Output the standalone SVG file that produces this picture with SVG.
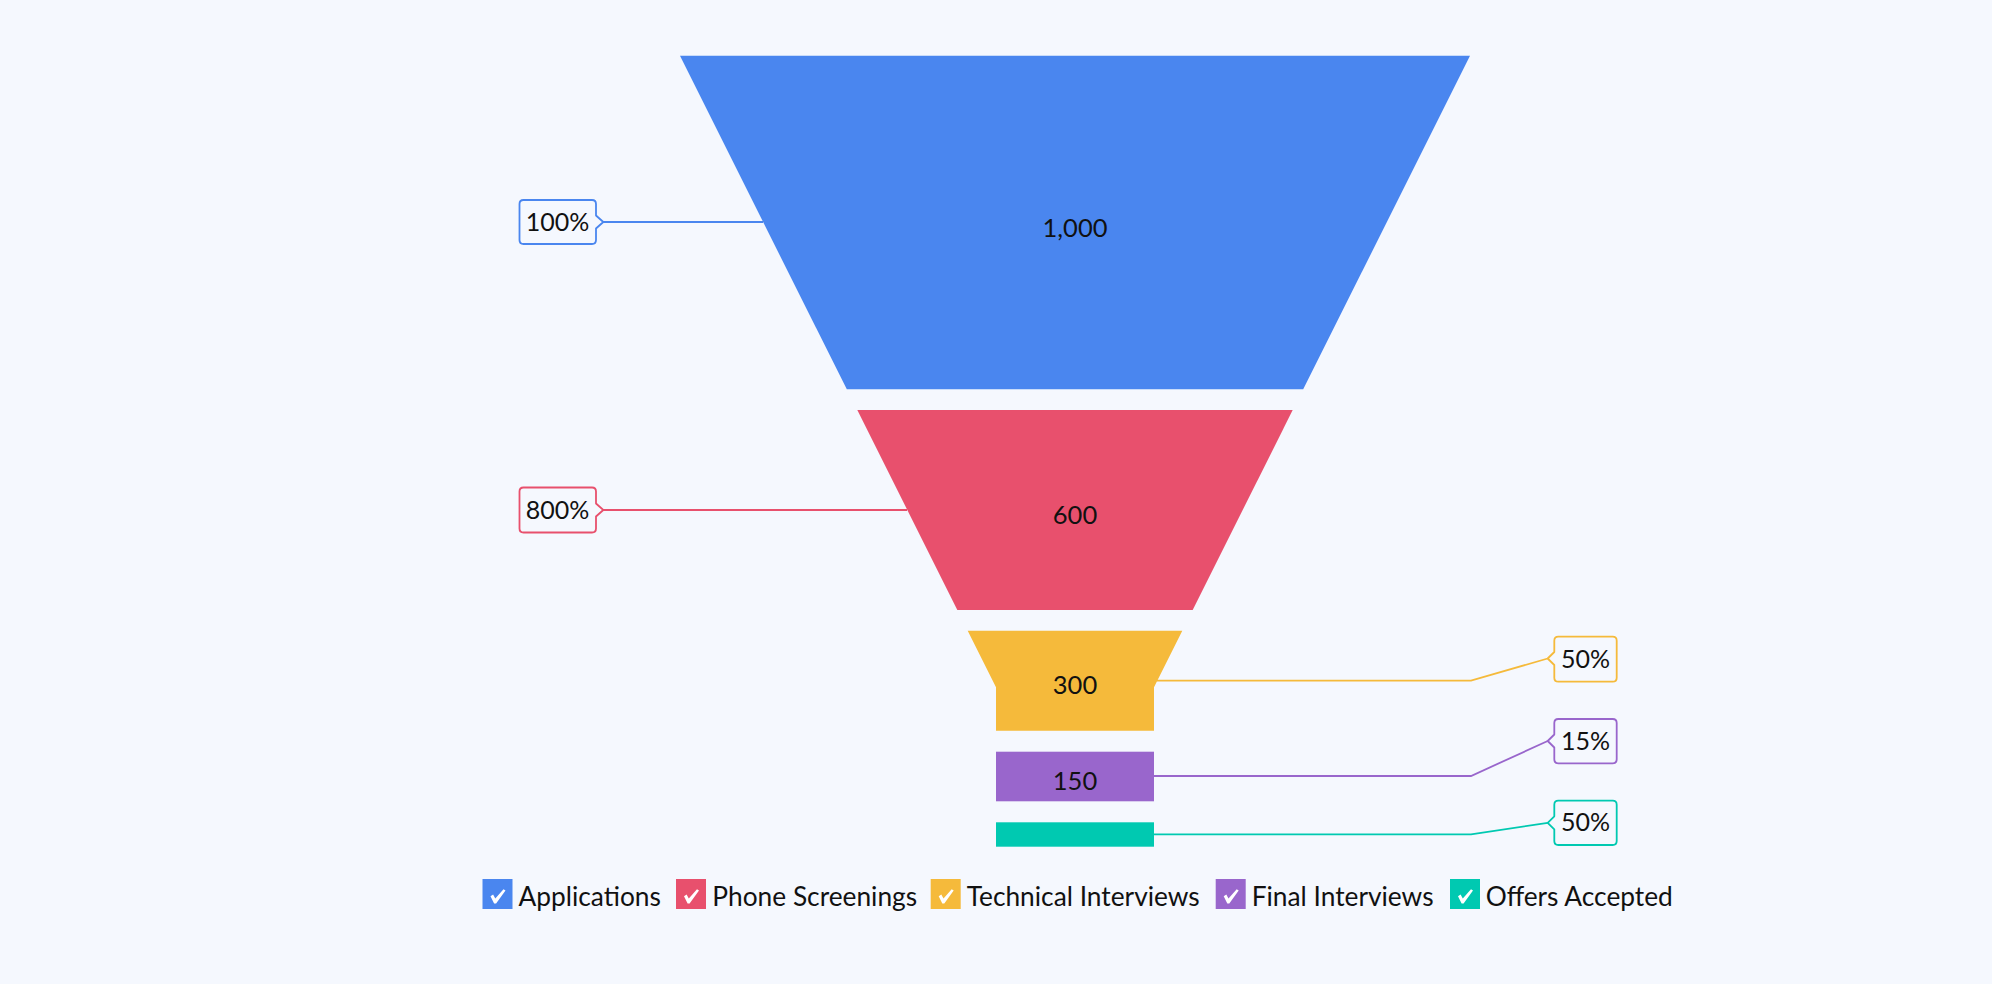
<svg xmlns="http://www.w3.org/2000/svg" xmlns:xlink="http://www.w3.org/1999/xlink" width="1992" height="984" viewBox="0 0 1992 984">
<style>
.val{font-family:Lato,"Liberation Sans",sans-serif;font-size:25.5px;fill:#111;text-anchor:middle}
.lbl{font-family:Lato,"Liberation Sans",sans-serif;font-size:25px;fill:#111;text-anchor:middle}
.leg{font-family:Lato,"Liberation Sans",sans-serif;font-size:26.3px;fill:#111}
.conn{fill:none;stroke-width:1.8}
.box{fill:#F5F8FE;stroke-width:1.8;stroke-linejoin:round}
</style>
<defs>
<path id="chk" d="M8,17.2 L10.6,15.6 L12.8,19.6 L21,10.2 L23,11.4 L13.6,24.6 L11.6,24.6 Z" fill="#fff"/>
</defs>
<rect width="1992" height="984" fill="#F5F8FE"/>

<g id="connectors">
<path class="conn" stroke="#4A86EF" d="M603,222 H763"/>
<path class="conn" stroke="#E8506D" d="M603,510 H907"/>
<path class="conn" stroke="#F5BA3B" d="M1157,680.7 H1471 L1547.7,658.5"/>
<path class="conn" stroke="#9966CC" d="M1154,776 H1471 L1547.7,741"/>
<path class="conn" stroke="#00C9B1" d="M1154,834.3 H1471 L1547.7,822.8"/>
</g>

<g id="applications">
<polygon points="680,55.7 1470,55.7 1303.2,389.3 846.8,389.3" fill="#4A86EF"/>
<text class="val" x="1075" y="236.5">1,000</text>
<path class="box" stroke="#4A86EF" d="M523.5,200 H592 Q596,200 596,204 V215.5 L603.3,222 L596,228.5 V240 Q596,244 592,244 H523.5 Q519.5,244 519.5,240 V204 Q519.5,200 523.5,200 Z"/>
<text class="lbl" x="557.5" y="230.5">100%</text>
</g>

<g id="phone-screenings">
<polygon points="857.3,410 1292.7,410 1192.7,610 957.3,610" fill="#E8506D"/>
<text class="val" x="1075" y="523.5">600</text>
<path class="box" stroke="#E8506D" d="M523.5,487.5 H592 Q596,487.5 596,491.5 V503.5 L603.3,510 L596,516.5 V528.5 Q596,532.5 592,532.5 H523.5 Q519.5,532.5 519.5,528.5 V491.5 Q519.5,487.5 523.5,487.5 Z"/>
<text class="lbl" x="557.5" y="518.5">800%</text>
</g>

<g id="technical-interviews">
<polygon points="967.7,630.7 1182.3,630.7 1154,687.3 1154,730.7 996,730.7 996,687.3" fill="#F5BA3B"/>
<text class="val" x="1075" y="694">300</text>
<path class="box" stroke="#F5BA3B" d="M1558.3,636.7 H1612.7 Q1616.7,636.7 1616.7,640.7 V677.7 Q1616.7,681.7 1612.7,681.7 H1558.3 Q1554.3,681.7 1554.3,677.7 V665 L1547.7,658.5 L1554.3,652 V640.7 Q1554.3,636.7 1558.3,636.7 Z"/>
<text class="lbl" x="1585.5" y="667.5">50%</text>
</g>

<g id="final-interviews">
<rect x="996" y="751.7" width="158" height="49.6" fill="#9966CC"/>
<text class="val" x="1075" y="790">150</text>
<path class="box" stroke="#9966CC" d="M1558.3,719 H1612.7 Q1616.7,719 1616.7,723 V759.3 Q1616.7,763.3 1612.7,763.3 H1558.3 Q1554.3,763.3 1554.3,759.3 V747.5 L1547.7,741 L1554.3,734.5 V723 Q1554.3,719 1558.3,719 Z"/>
<text class="lbl" x="1585.5" y="749.5">15%</text>
</g>

<g id="offers-accepted">
<rect x="996" y="822.3" width="158" height="24.4" fill="#00C9B1"/>
<path class="box" stroke="#00C9B1" d="M1558.3,800.7 H1612.7 Q1616.7,800.7 1616.7,804.7 V841 Q1616.7,845 1612.7,845 H1558.3 Q1554.3,845 1554.3,841 V829.3 L1547.7,822.8 L1554.3,816.3 V804.7 Q1554.3,800.7 1558.3,800.7 Z"/>
<text class="lbl" x="1585.5" y="831.3">50%</text>
</g>

<g id="legend">
<rect x="482.5" y="879" width="30" height="30" fill="#4A86EF"/>
<use xlink:href="#chk" x="482.5" y="879"/>
<text class="leg" x="518.5" y="906">Applications</text>
<rect x="676" y="879" width="30" height="30" fill="#E8506D"/>
<use xlink:href="#chk" x="676" y="879"/>
<text class="leg" x="712.3" y="906">Phone Screenings</text>
<rect x="930.7" y="879" width="30" height="30" fill="#F5BA3B"/>
<use xlink:href="#chk" x="930.7" y="879"/>
<text class="leg" x="966.7" y="906">Technical Interviews</text>
<rect x="1215.7" y="879" width="30" height="30" fill="#9966CC"/>
<use xlink:href="#chk" x="1215.7" y="879"/>
<text class="leg" x="1251.7" y="906">Final Interviews</text>
<rect x="1450" y="879" width="30" height="30" fill="#00C9B1"/>
<use xlink:href="#chk" x="1450" y="879"/>
<text class="leg" x="1485.7" y="906">Offers Accepted</text>
</g>
</svg>
